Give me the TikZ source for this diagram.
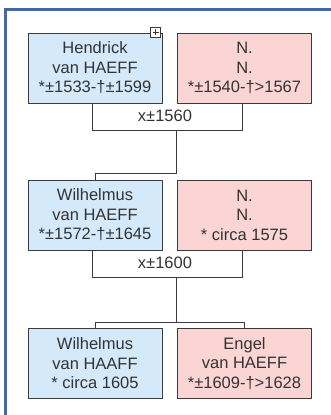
\documentclass[tikz,border=0pt]{standalone}
\usepackage{fontspec}
\setmainfont{Liberation Sans}
\usepackage{xcolor}
\definecolor{manblue}{HTML}{D4EAFB}
\definecolor{womanpink}{HTML}{FBD4D4}
\definecolor{frameblue}{HTML}{3F6AA6}
\definecolor{textgray}{HTML}{333333}
\definecolor{linegray}{HTML}{3A3A3A}

\tikzset{
  person/.style={draw=linegray, line width=0.9pt, minimum width=134pt, minimum height=70pt,
    inner sep=0pt, align=center, text=textgray, font=\fontsize{16.5}{19.5}\selectfont},
  man/.style={person, fill=manblue},
  woman/.style={person, fill=womanpink},
  link/.style={draw=linegray, line width=1pt},
  wedding/.style={text=textgray, inner sep=0pt, font=\fontsize{16.5}{19.5}\selectfont},
  expand/.style={draw=linegray, fill=white, line width=0.8pt, minimum size=10pt, inner sep=0pt,
    path picture={\draw[line width=1pt]
      ([xshift=-3pt]path picture bounding box.center) -- ([xshift=3pt]path picture bounding box.center)
      ([yshift=-3pt]path picture bounding box.center) -- ([yshift=3pt]path picture bounding box.center);}},
}

\begin{document}
\begin{tikzpicture}[x=1pt,y=1pt]
  \useasboundingbox (0,0) rectangle (331,-415);
  % Window frame
  \draw[frameblue, line width=3pt] (5.5,-430) -- (5.5,-9.5) -- (345,-9.5);

  % Grandparents
  \node[man] (hendrick) at (95,-68) {Hendrick\\van HAEFF\\*±1533-†±1599};
  \node[woman] (nnone) at (244.5,-68) {N.\\N.\\*±1540-†>1567};
  \node[expand] (plus) at (155.5,-32) {};
  % Parents
  \node[man] (wilhelmus) at (95,-215) {Wilhelmus\\van HAEFF\\*±1572-†±1645};
  \node[woman] (nntwo) at (244.5,-215) {N.\\N.\\* circa 1575};
  % Children
  \node[man] (wilhelmusjr) at (95,-363.5) {Wilhelmus\\van HAAFF\\* circa 1605};
  \node[woman] (engel) at (244.5,-363.5) {Engel\\van HAEFF\\*±1609-†>1628};

  % Marriage lines
  \draw[link] ([xshift=-3pt]hendrick.south) |- ([xshift=-2.5pt,yshift=-27pt]nnone.south)
    -- ([xshift=-2.5pt]nnone.south);
  \node[wedding] (wedone) at (165,-115.5) {x±1560};
  \draw[link] ([xshift=-3pt]wilhelmus.south) |- ([xshift=-2.5pt,yshift=-27pt]nntwo.south)
    -- ([xshift=-2.5pt]nntwo.south);
  \node[wedding] (wedtwo) at (165,-262.5) {x±1600};

  % Descent lines
  \coordinate (splitone) at (176,-130);
  \coordinate (splittwo) at (176,-277);
  \draw[link] (splitone) -- ++(0,-43) -| (wilhelmus.north);
  \draw[link] (splittwo) -- ++(0,-45) -| (wilhelmusjr.north);
  \draw[link] (splittwo) -- ++(0,-45) -| (engel.north);
\end{tikzpicture}
\end{document}
